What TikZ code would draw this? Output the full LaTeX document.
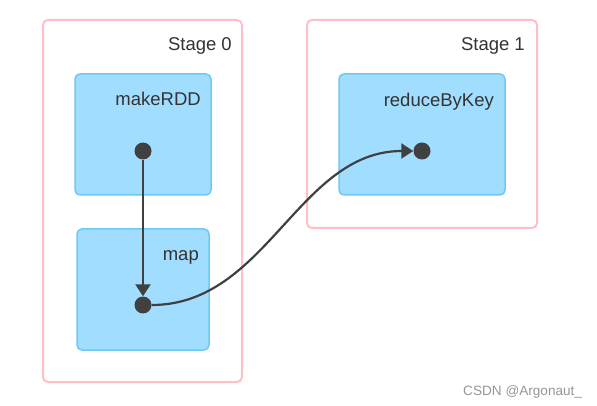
\documentclass[tikz,border=0pt]{standalone}
\usepackage{fontspec}
\setmainfont{Liberation Sans}
\usetikzlibrary{arrows.meta}
\definecolor{stageline}{RGB}{255,190,200}
\definecolor{boxfill}{RGB}{160,221,255}
\definecolor{boxline}{RGB}{110,200,245}
\definecolor{ink}{RGB}{64,64,64}
\definecolor{txt}{RGB}{51,51,51}
\definecolor{wm}{RGB}{150,150,150}
\begin{document}
\begin{tikzpicture}[x=1pt,y=-1pt,
  stagebox/.style={draw=stageline,line width=2pt,fill=white,rounded corners=5pt},
  opbox/.style={draw=boxline,line width=1.5pt,fill=boxfill,rounded corners=5pt},
  lbl/.style={anchor=base east,inner sep=0pt,text=txt,font=\fontsize{18.5}{20}\selectfont},
  dot/.style={circle,fill=ink,inner sep=0pt,minimum size=17pt},
  conn/.style={draw=ink,line width=2.2pt,-{Triangle[length=12pt,width=15pt]}}
]
\useasboundingbox (0,0) rectangle (597,406);
\fill[white] (0,0) rectangle (597,406);
% stages
\path[stagebox] (43,20) rectangle (242,382);
\path[stagebox] (307,20) rectangle (537,228);
\node[lbl] (s0) at (232,51) {Stage 0};
\node[lbl] (s1) at (525,51) {Stage 1};
% operation boxes
\path[opbox] (75,74) rectangle (211,195);
\path[opbox] (77,229) rectangle (209,350);
\path[opbox] (339,74) rectangle (505,195);
\node[lbl] (l1) at (201,106) {makeRDD};
\node[lbl] (l2) at (199,260) {map};
\node[lbl] (l3) at (494,107) {reduceByKey};
% dots
\node[dot] (d1) at (143,151) {};
\node[dot] (d2) at (143,305) {};
\node[dot] (d3) at (422,151) {};
% connectors
\draw[conn] (d1) -- (d2);
\draw[conn] (d2.east) .. controls +(115,0) and +(-115,0) .. (d3.west);
% watermark
\node[anchor=base west,inner sep=0pt,text=wm,font=\fontsize{13.6}{15}\selectfont] (wm) at (463,395) {CSDN @Argonaut\_};
\end{tikzpicture}
\end{document}
